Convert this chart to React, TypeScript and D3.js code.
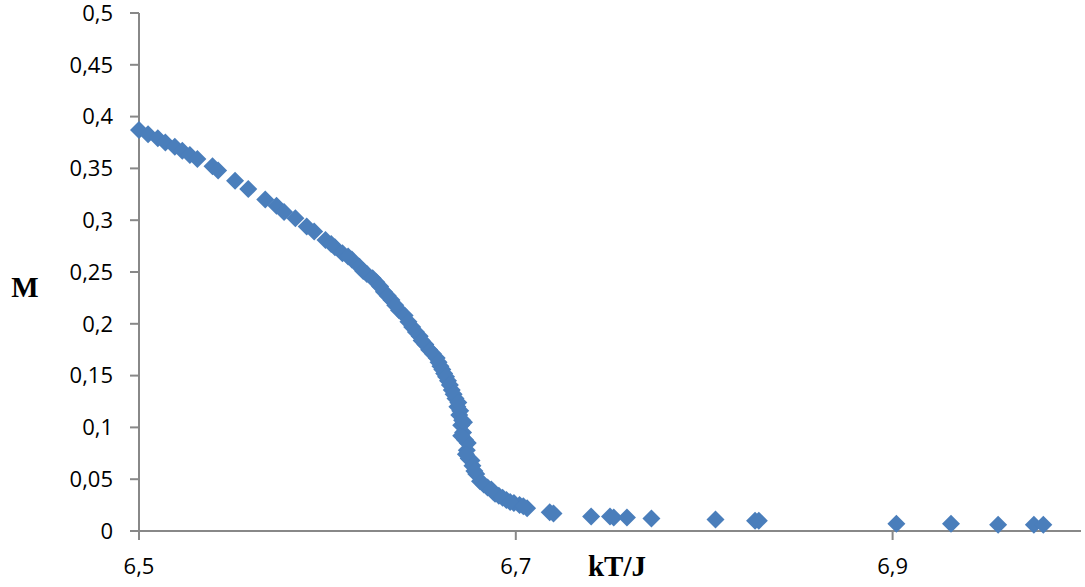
import React from "react";
import * as d3 from "d3";

const temps: number[] = [
  6.5, 6.5048, 6.51, 6.514, 6.519, 6.523, 6.527, 6.531, 6.539, 6.542,
  6.551, 6.558, 6.567, 6.573, 6.577, 6.583, 6.589, 6.593, 6.599, 6.604,
  6.608, 6.613, 6.617, 6.621, 6.626, 6.63, 6.634, 6.638, 6.641, 6.645,
  6.649, 6.652, 6.654, 6.658, 6.66, 6.662, 6.664, 6.666, 6.668, 6.669,
  6.67, 6.671, 6.672, 6.673, 6.674, 6.675, 6.677, 6.679, 6.681, 6.685,
  6.688, 6.691, 6.695, 6.699, 6.702, 6.706,
  6.6725, 6.6745, 6.6765, 6.671, 6.6735, 6.678, 6.683, 6.689,
  6.602, 6.611, 6.619, 6.624, 6.628, 6.632, 6.636, 6.643, 6.647, 6.65,
  6.656, 6.659, 6.661, 6.663, 6.665, 6.667, 6.6695, 6.6705, 6.6715, 6.687,
  6.693, 6.697, 6.704,
  6.718, 6.72, 6.74, 6.75, 6.752, 6.759, 6.772, 6.806, 6.827, 6.829,
  6.902, 6.931, 6.956, 6.975, 6.98,
];
const mags: number[] = [
  0.387, 0.383, 0.379, 0.375, 0.371, 0.367, 0.363, 0.359, 0.352, 0.348,
  0.338, 0.33, 0.32, 0.314, 0.308, 0.302, 0.294, 0.289, 0.281, 0.274,
  0.268, 0.262, 0.255, 0.248, 0.24, 0.231, 0.223, 0.213, 0.208, 0.197,
  0.188, 0.18, 0.175, 0.167, 0.159, 0.152, 0.145, 0.136, 0.128, 0.12,
  0.112, 0.102, 0.095, 0.088, 0.078, 0.07, 0.063, 0.055, 0.048, 0.042,
  0.038, 0.034, 0.03, 0.027, 0.025, 0.022,
  0.105, 0.085, 0.068, 0.092, 0.074, 0.058, 0.045, 0.036,
  0.277, 0.265, 0.251, 0.244, 0.236, 0.227, 0.218, 0.202, 0.192, 0.184,
  0.171, 0.163, 0.156, 0.149, 0.141, 0.132, 0.124, 0.116, 0.107, 0.04,
  0.032, 0.028, 0.024,
  0.018, 0.017, 0.014, 0.014, 0.013, 0.013, 0.012, 0.011, 0.01, 0.01,
  0.007, 0.007, 0.006, 0.006, 0.006,
];

const xTicks: number[] = [6.5, 6.7, 6.9];
const yTicks: number[] = [0, 0.05, 0.1, 0.15, 0.2, 0.25, 0.3, 0.35, 0.4, 0.45, 0.5];
const xLabel = "kT/J";
const yLabel = "M";

const fmt = (v: number) => String(v).replace(".", ",");

export default function App() {
  const W = 1085;
  const H = 587;
  const left = 139;
  const right = 1081;
  const top = 13;
  const bottom = 531;

  const x = d3.scaleLinear().domain([6.5, 7.0]).range([left, right]);
  const y = d3.scaleLinear().domain([0, 0.5]).range([bottom, top]);

  const axisColor = "#888888";
  const tickFont = "'Open Sans', 'Noto Sans', sans-serif";
  const r = 9;
  const pts = temps.map((t, i) => [x(t), y(mags[i])] as [number, number]);

  return (
    <svg
      width={W}
      height={H}
      style={{ position: "absolute", left: 0, top: 0, background: "#fff" }}
    >
      <rect x={0} y={0} width={W} height={H} fill="#fff" />
      <line x1={left} x2={left} y1={top} y2={bottom} stroke={axisColor} strokeWidth={2} />
      {yTicks.map((v) => (
        <g key={"y" + v}>
          <line x1={left - 9} x2={left} y1={y(v)} y2={y(v)} stroke={axisColor} strokeWidth={2} />
          <text
            x={113}
            y={y(v)}
            dy="0.35em"
            textAnchor="end"
            fontFamily={tickFont}
            fontSize={22}
            fill="#000"
          >
            {fmt(v)}
          </text>
        </g>
      ))}
      <line x1={left - 9} x2={right} y1={bottom} y2={bottom} stroke={axisColor} strokeWidth={2} />
      {xTicks.map((v) => (
        <g key={"x" + v}>
          <line x1={x(v)} x2={x(v)} y1={bottom} y2={bottom + 9} stroke={axisColor} strokeWidth={2} />
          <text
            x={x(v)}
            y={566}
            dy="0.35em"
            textAnchor="middle"
            fontFamily={tickFont}
            fontSize={22}
            fill="#000"
          >
            {fmt(v)}
          </text>
        </g>
      ))}
      {pts.map(([px, py], i) => (
        <path
          key={i}
          d={`M${px},${py - r}L${px + r},${py}L${px},${py + r}L${px - r},${py}Z`}
          fill="#4A7EBB"
        />
      ))}
      <text
        x={617}
        y={566}
        dy="0.35em"
        textAnchor="middle"
        fontFamily="'Liberation Serif', 'DejaVu Serif', serif"
        fontWeight="bold"
        fontSize={29}
        fill="#000"
      >
        {xLabel}
      </text>
      <text
        x={25}
        y={287}
        dy="0.35em"
        textAnchor="middle"
        fontFamily="'Liberation Serif', 'DejaVu Serif', serif"
        fontWeight="bold"
        fontSize={29}
        fill="#000"
      >
        {yLabel}
      </text>
    </svg>
  );
}
